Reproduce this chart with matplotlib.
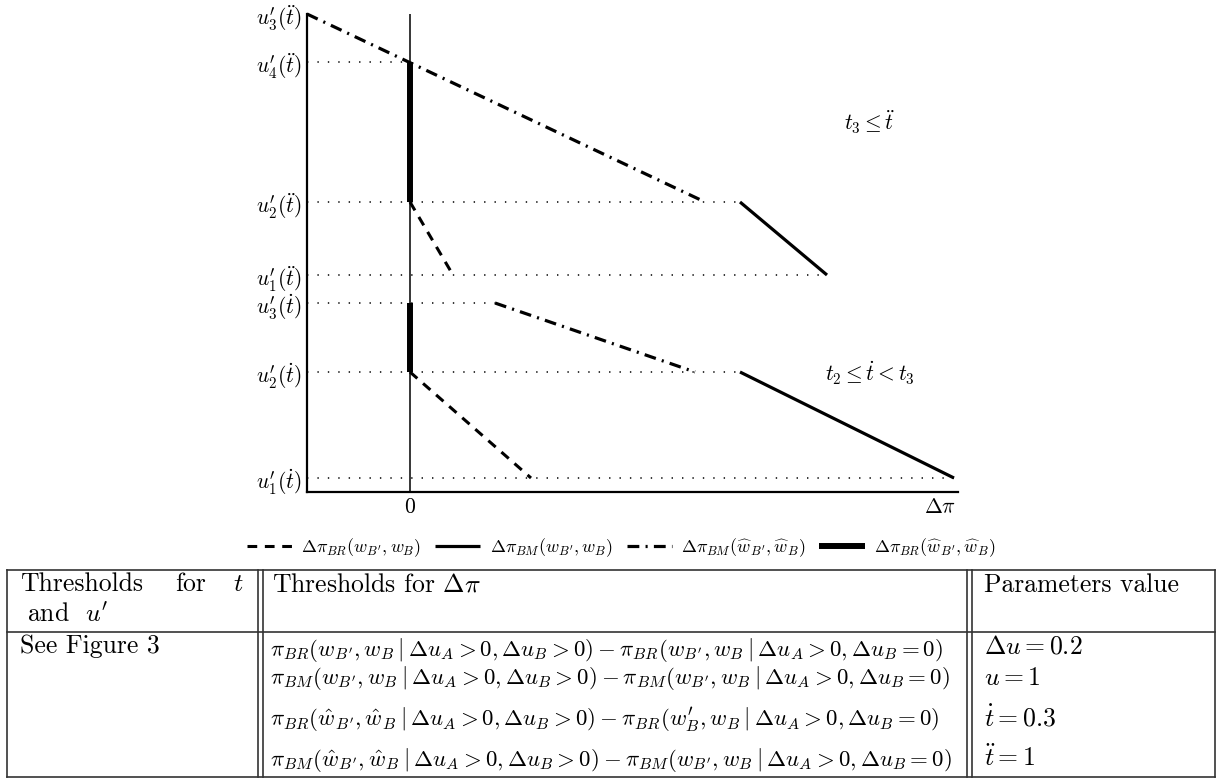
import matplotlib
matplotlib.use("Agg")
import matplotlib.pyplot as plt
from matplotlib.lines import Line2D

plt.rcParams['font.family'] = 'serif'
plt.rcParams['font.serif'] = ['cmr10']
plt.rcParams['mathtext.fontset'] = 'cm'
plt.rcParams['axes.unicode_minus'] = False
plt.rcParams['axes.formatter.use_mathtext'] = True
plt.rcParams['lines.scale_dashes'] = False

W, H = 1218, 778

# ---------------- data ----------------
# y-levels (threshold values of u')
y_labels = [r'$u^{\prime}_{1}(\dot{t})$', r'$u^{\prime}_{2}(\dot{t})$', r'$u^{\prime}_{3}(\dot{t})$',
            r'$u^{\prime}_{1}(\ddot{t})$', r'$u^{\prime}_{2}(\ddot{t})$', r'$u^{\prime}_{4}(\ddot{t})$',
            r'$u^{\prime}_{3}(\ddot{t})$']
y_levels = [1.4, 12.0, 18.9, 21.7, 29.0, 43.0, 47.8]
x_ticks = [0, 53.0]
x_tick_labels = ['0', r'$\Delta\pi$']

# upper panel (t3 <= t..)
bm_hat_dd_x = [-10.3, 29.5]; bm_hat_dd_y = [47.8, 29.0]
br_hat_dd_x = [0.0, 0.0];    br_hat_dd_y = [43.0, 29.0]
br_dd_x = [0.0, 4.3];        br_dd_y = [29.0, 21.7]
bm_dd_x = [33.0, 41.7];      bm_dd_y = [29.0, 21.7]
# lower panel (t2 <= t. < t3)
br_d_x = [0.0, 12.1];        br_d_y = [12.0, 1.4]
br_hat_d_x = [0.0, 0.0];     br_hat_d_y = [18.9, 12.0]
bm_hat_d_x = [8.5, 28.5];    bm_hat_d_y = [18.9, 12.0]
bm_d_x = [33.0, 54.4];       bm_d_y = [12.0, 1.4]

# dotted guides: (level, end x)
guides_y = [43.0, 29.0, 21.7, 18.9, 12.0, 1.4]
guides_x_end = [0.0, 33.0, 41.7, 8.5, 33.0, 54.4]

legend_labels = [r'$\Delta\pi_{BR}(w_{B^{\prime}},w_B)$', r'$\Delta\pi_{BM}(w_{B^{\prime}},w_B)$',
                 r'$\Delta\pi_{BM}(\widehat{w}_{B^{\prime}},\widehat{w}_B)$',
                 r'$\Delta\pi_{BR}(\widehat{w}_{B^{\prime}},\widehat{w}_B)$']

# table text
col1_header = ['Thresholds', 'for', r'$t$']
col1_header2 = r'and  $u^{\prime}$'
col1_row = 'See Figure 3'
col2_header = r'Thresholds for $\Delta\pi$'
col2_rows = [
    r'$\pi_{BR}(w_{B^{\prime}},w_B\mid\Delta u_A>0,\Delta u_B>0)-\pi_{BR}(w_{B^{\prime}},w_B\mid\Delta u_A>0,\Delta u_B=0)$',
    r'$\pi_{BM}(w_{B^{\prime}},w_B\mid\Delta u_A>0,\Delta u_B>0)-\pi_{BM}(w_{B^{\prime}},w_B\mid\Delta u_A>0,\Delta u_B=0)$',
    r'$\pi_{BR}(\hat{w}_{B^{\prime}},\hat{w}_B\mid\Delta u_A>0,\Delta u_B>0)-\pi_{BR}(w^{\prime}_B,w_B\mid\Delta u_A>0,\Delta u_B=0)$',
    r'$\pi_{BM}(\hat{w}_{B^{\prime}},\hat{w}_B\mid\Delta u_A>0,\Delta u_B>0)-\pi_{BM}(w_{B^{\prime}},w_B\mid\Delta u_A>0,\Delta u_B=0)$',
]
col3_header = 'Parameters value'
col3_rows = [r'$\Delta u=0.2$', r'$u=1$', r'$\dot{t}=0.3$', r'$\ddot{t}=1$']

# ---------------- figure ----------------
fig = plt.figure(figsize=(W / 100, H / 100), dpi=100)

def fx(px):
    return px / W

def fy(py):
    return 1 - py / H

ax_l, ax_r, ax_t, ax_b = 307, 958, 14, 492
ax = fig.add_axes([fx(ax_l), fy(ax_b), (ax_r - ax_l) / W, (ax_b - ax_t) / H])
ax.set_xlim(-10.3, 54.8)
ax.set_ylim(0, 47.8)
for s in ['top', 'right']:
    ax.spines[s].set_visible(False)
for s in ['left', 'bottom']:
    ax.spines[s].set_linewidth(1.6)

dot_style = (0, (1, 6.5))
for gy, gx in zip(guides_y, guides_x_end):
    ax.plot([-10.3, gx], [gy, gy], color='black', lw=1.1, linestyle=dot_style, clip_on=False)

ax.axvline(0, color='black', lw=1.1)

dash = (0, (7, 5.5))
dashdot = (0, (8.5, 4.5, 1.5, 4.5))
kw = dict(color='black', clip_on=False, solid_capstyle='butt')
l1, = ax.plot(br_dd_x, br_dd_y, lw=2.2, linestyle=dash, **kw)
ax.plot(br_d_x, br_d_y, lw=2.2, linestyle=dash, **kw)
l2, = ax.plot(bm_dd_x, bm_dd_y, lw=2.3, **kw)
ax.plot(bm_d_x, bm_d_y, lw=2.3, **kw)
l3, = ax.plot(bm_hat_dd_x, bm_hat_dd_y, lw=2.3, linestyle=dashdot, **kw)
ax.plot(bm_hat_d_x, bm_hat_d_y, lw=2.3, linestyle=dashdot, **kw)
l4, = ax.plot(br_hat_dd_x, br_hat_dd_y, lw=4.3, **kw)
ax.plot(br_hat_d_x, br_hat_d_y, lw=4.3, **kw)

ax.set_yticks(y_levels)
ax.set_yticklabels(y_labels, fontsize=15.5)
ax.set_xticks(x_ticks)
ax.set_xticklabels(x_tick_labels, fontsize=15.5)
ax.tick_params(length=0, pad=4)

ax.text(46.0, 37.0, r'$t_3\leq\ddot{t}$', fontsize=15.5, ha='center', va='center')
ax.text(46.0, 11.9, r'$t_2\leq\dot{t}<t_3$', fontsize=15.5, ha='center', va='center')

fig.legend([l1, l2, l3, l4], legend_labels, loc='center', bbox_to_anchor=(fx(621), fy(548)),
           ncol=4, frameon=False, fontsize=13, handlelength=2.5, columnspacing=0.8,
           handletextpad=0.5, borderaxespad=0)

# ---------------- table ----------------
lc = '#333333'
def hline(y, x0, x1, lw=1.2):
    fig.add_artist(Line2D([fx(x0), fx(x1)], [fy(y), fy(y)], color=lc, lw=lw))

def vline(x, y0, y1, lw=1.2):
    fig.add_artist(Line2D([fx(x), fx(x)], [fy(y0), fy(y1)], color=lc, lw=lw))

t_left, t_right, t_top, t_mid, t_bot = 7, 1215, 570, 632, 777
hline(t_top, t_left, t_right)
hline(t_mid, t_left, t_right)
hline(t_bot, t_left, t_right)
vline(t_left, t_top, t_bot)
vline(t_right, t_top, t_bot)
for x in (258, 263, 967, 972):
    vline(x, t_top, t_bot)

big = 18.5
fig.text(fx(20), fy(584), col1_header[0], fontsize=big, va='center', ha='left')
fig.text(fx(175), fy(584), col1_header[1], fontsize=big, va='center', ha='left')
fig.text(fx(233), fy(584), col1_header[2], fontsize=big, va='center', ha='left')
fig.text(fx(27), fy(615), col1_header2, fontsize=big, va='center', ha='left')
fig.text(fx(20), fy(646), col1_row, fontsize=big, va='center', ha='left')

fig.text(fx(272), fy(585), col2_header, fontsize=big, va='center', ha='left')
for yy, s in zip([650, 678, 720, 760], col2_rows):
    fig.text(fx(270), fy(yy), s, fontsize=16.5, va='center', ha='left')

fig.text(fx(984), fy(585), col3_header, fontsize=big, va='center', ha='left')
for yy, s in zip([647, 678, 718, 758], col3_rows):
    fig.text(fx(984), fy(yy), s, fontsize=big, va='center', ha='left')

fig.savefig('out.png', dpi=100)
